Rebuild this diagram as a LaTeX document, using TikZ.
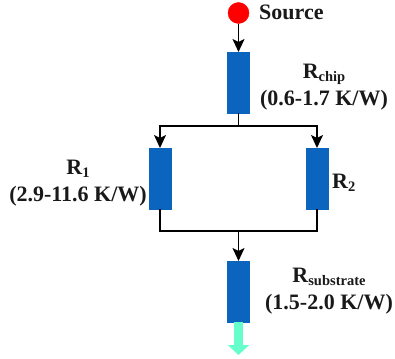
\documentclass[tikz,border=0pt]{standalone}
\usepackage{fontspec}
\setmainfont{Liberation Serif}
\usetikzlibrary{arrows.meta,positioning,calc}
\definecolor{resblue}{HTML}{0B65BE}
\definecolor{flowgreen}{HTML}{66FFCC}
\newcommand{\lowsub}[1]{\raisebox{-3pt}{\fontsize{14.5}{15}\selectfont #1}}

\begin{document}
\begin{tikzpicture}[
    x=1pt,y=-1pt,
    res/.style={draw=resblue,fill=resblue,minimum width=22pt,minimum height=61pt,inner sep=0pt,outer sep=0pt},
    lab/.style={align=center,inner sep=0pt,font=\fontsize{22}{27}\selectfont\bfseries,text=black!90},
    arr/.style={-{Stealth[length=13pt,width=12pt,inset=3pt]},line width=1.8pt},
    wire/.style={line width=1.8pt}
  ]
    \useasboundingbox (0,0) rectangle (395,358);

    \node[circle,fill=red,draw=red,minimum size=21pt,inner sep=0pt] (src) at (238.5,13) {};
    \node[res] (chip) at (238.5,82.5) {};
    \node[res] (r1)   at (160,178.5) {};
    \node[res] (r2)   at (317,178.5) {};
    \node[res] (sub)  at (238.5,291.5) {};

    \coordinate (top) at (238.5,126);
    \coordinate (bot) at (238.5,231);
    \coordinate (end) at (238.5,355);

    \node[lab,anchor=base west] (srclab) at (259,20) {Source};
    \node[lab] (chiplab) at (324,87.5) {R\lowsub{chip}\\(0.6-1.7 K/W)};
    \node[lab] (r1lab) at (78,183) {R\lowsub{1}\\(2.9-11.6 K/W)};
    \node[lab,anchor=base west] (r2lab) at (332,188) {R\lowsub{2}};
    \node[lab] (sublab) at (329,291.5) {R\lowsub{substrate}\\(1.5-2.0 K/W)};

    \draw[arr] (src) -- (chip);
    \draw[wire] (chip) -- (top);
    \draw[arr] (top) -| (r1);
    \draw[arr] (top) -| (r2);
    \draw[wire] (r1) |- (bot);
    \draw[wire] (r2) |- (bot);
    \draw[arr] (bot) -- (sub);
    \draw[-{Triangle[length=10pt,width=21pt]},line width=9pt,flowgreen] (sub.south) -- (end);
  \end{tikzpicture}
\end{document}
